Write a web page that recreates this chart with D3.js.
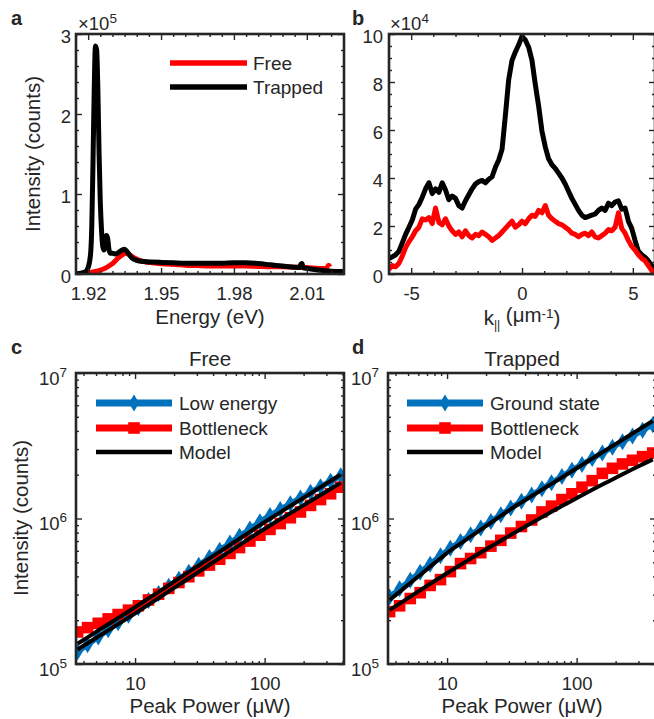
<!DOCTYPE html>
<html><head><meta charset="utf-8">
<script src="https://cdn.jsdelivr.net/npm/d3@7/dist/d3.min.js"></script>
<style>
body{margin:0;background:#fff}
text{font-family:"Liberation Sans",Arial,Helvetica,sans-serif;fill:#262626}
</style>
</head><body>
<svg id="fig" width="654" height="719"></svg>
<script>
// ---------- DATA ----------
// Panel a: spectra (intensity in units of 1e5 counts)
const energyFree = [1.915,1.918,1.921,1.924,1.926,1.928,1.930,1.932,1.934,1.9355,1.937,1.939,1.941,1.944,1.948,1.952,1.956,1.960,1.965,1.970,1.975,1.980,1.985,1.990,1.995,2.000,2.005,2.010,2.015,2.018,2.019,2.0195];
const spectrumFree = [0.0,0.01,0.02,0.04,0.06,0.09,0.13,0.19,0.24,0.26,0.24,0.20,0.17,0.15,0.135,0.125,0.12,0.11,0.105,0.10,0.10,0.10,0.10,0.095,0.09,0.09,0.085,0.08,0.07,0.07,0.11,0.09];
const energyTrapped = [1.915,1.917,1.919,1.920,1.921,1.9215,1.922,1.9225,1.923,1.9235,1.924,1.9245,1.925,1.9255,1.926,1.9265,1.927,1.9275,1.928,1.9285,1.929,1.930,1.931,1.932,1.933,1.934,1.935,1.936,1.937,1.938,1.940,1.943,1.946,1.950,1.955,1.960,1.965,1.970,1.975,1.980,1.985,1.990,1.995,2.000,2.005,2.007,2.0075,2.008,2.0085,2.010,2.015,2.020,2.025];
const spectrumTrapped = [0.00,0.01,0.03,0.08,0.25,0.6,1.4,2.3,2.85,2.80,2.3,1.5,0.9,0.55,0.35,0.30,0.38,0.48,0.45,0.32,0.26,0.26,0.25,0.26,0.28,0.30,0.31,0.28,0.24,0.20,0.17,0.155,0.15,0.145,0.14,0.135,0.135,0.135,0.135,0.14,0.14,0.13,0.115,0.10,0.085,0.08,0.12,0.13,0.08,0.07,0.05,0.035,0.03];

// Panel b: momentum profiles (units of 1e4 counts)
const kPar = [-6,-5.85,-5.7,-5.55,-5.4,-5.25,-5.1,-4.95,-4.8,-4.65,-4.5,-4.35,-4.2,-4.05,-3.9,-3.75,-3.6,-3.45,-3.3,-3.15,-3,-2.85,-2.7,-2.55,-2.4,-2.25,-2.1,-1.95,-1.8,-1.65,-1.5,-1.35,-1.2,-1.05,-0.9,-0.75,-0.6,-0.45,-0.3,-0.15,0,0.15,0.3,0.45,0.6,0.75,0.9,1.05,1.2,1.35,1.5,1.65,1.8,1.95,2.1,2.25,2.4,2.55,2.7,2.85,3,3.15,3.3,3.45,3.6,3.75,3.9,4.05,4.2,4.35,4.5,4.65,4.8,4.95,5.1,5.25,5.4,5.55,5.7,5.85,6];
const profileTrapped = [0.65,0.72,0.80,0.95,1.30,1.65,1.95,2.25,2.70,2.90,
 3.20,3.55,3.80,3.35,3.55,3.40,3.80,3.50,3.10,3.25,
 3.15,2.85,2.75,3.05,3.30,3.55,3.75,3.85,3.90,3.80,
 3.95,4.05,4.45,4.75,5.20,6.60,8.10,8.90,9.25,9.55,
 9.90,
 9.75,9.45,8.90,7.90,7.00,5.95,5.30,4.80,4.55,
 4.40,4.20,4.00,3.75,3.45,3.15,2.90,2.65,2.45,2.35,
 2.40,2.45,2.50,2.65,2.75,2.65,2.95,2.85,3.00,3.05,
 2.70,2.75,2.20,1.90,1.40,0.95,0.80,0.70,0.55,0.35,0.10];
const profileFree = [0.20,0.35,0.30,0.45,0.75,1.10,1.35,1.55,1.80,1.95,
 2.30,2.25,2.35,2.10,2.75,2.15,2.05,2.30,2.00,1.80,
 1.65,1.75,1.55,1.80,1.60,1.50,1.65,1.60,1.75,1.65,
 1.55,1.40,1.50,1.60,1.75,1.90,2.05,2.20,1.95,2.05,
 2.20,
 2.10,2.30,2.45,2.40,2.65,2.55,2.85,2.45,2.30,
 2.20,2.10,2.05,1.95,1.85,1.70,1.65,1.55,1.65,1.70,
 1.60,1.75,1.55,1.50,1.60,1.70,1.85,1.80,1.95,2.55,
 1.90,1.70,1.40,1.15,1.00,0.80,0.65,0.55,0.35,0.15,-0.10];

// Panels c,d: power dependence (counts)
const peakPower = [3.6,4.3,5.2,6.2,7.4,8.9,10.6,12.7,15.2,18.2,21.8,26,31,37.5,45,54,64,77,92,110,132,158,189,226,270,323,387];
const freeLowEnergy = [1.213e5,1.358e5,1.535e5,1.718e5,1.923e5,2.163e5,2.432e5,2.729e5,3.055e5,3.420e5,3.828e5,4.276e5,4.775e5,5.395e5,6.039e5,6.776e5,7.551e5,8.472e5,9.484e5,1.050e6,1.153e6,1.265e6,1.384e6,1.514e6,1.652e6,1.803e6,1.968e6];
const freeBottleneck = [1.660e5,1.778e5,1.905e5,2.042e5,2.188e5,2.344e5,2.512e5,2.754e5,3.020e5,3.311e5,3.631e5,3.981e5,4.365e5,4.786e5,5.248e5,5.754e5,6.310e5,6.998e5,7.674e5,8.414e5,9.226e5,1.012e6,1.109e6,1.230e6,1.349e6,1.479e6,1.641e6];
const freeModelLow = [1.380e5,1.524e5,1.698e5,1.875e5,2.070e5,2.296e5,2.541e5,2.825e5,3.133e5,3.483e5,3.873e5,4.295e5,4.753e5,5.321e5,5.916e5,6.577e5,7.278e5,8.091e5,8.995e5,9.954e5,1.102e6,1.219e6,1.346e6,1.486e6,1.641e6,1.811e6,2.004e6];
const freeModelBottleneck = [1.259e5,1.390e5,1.545e5,1.702e5,1.879e5,2.084e5,2.301e5,2.559e5,2.838e5,3.155e5,3.499e5,3.882e5,4.295e5,4.808e5,5.346e5,5.943e5,6.561e5,7.311e5,8.110e5,8.954e5,9.886e5,1.089e6,1.197e6,1.318e6,1.449e6,1.596e6,1.758e6];
const trappedGround = [2.891e5,3.289e5,3.767e5,4.276e5,4.853e5,5.546e5,6.252e5,6.950e5,7.727e5,8.590e5,9.550e5,1.062e6,1.180e6,1.312e6,1.449e6,1.603e6,1.758e6,1.945e6,2.148e6,2.355e6,2.582e6,2.825e6,3.090e6,3.373e6,3.690e6,4.036e6,4.416e6];
const trappedBottleneck = [2.290e5,2.512e5,2.818e5,3.090e5,3.467e5,3.802e5,4.315e5,4.898e5,5.309e5,5.821e5,6.457e5,7.079e5,7.943e5,8.810e5,9.772e5,1.109e6,1.216e6,1.349e6,1.479e6,1.641e6,1.820e6,2.042e6,2.213e6,2.371e6,2.512e6,2.661e6,2.818e6];
const trappedModelGround = [2.754e5,3.133e5,3.606e5,4.093e5,4.667e5,5.333e5,6.026e5,6.730e5,7.516e5,8.395e5,9.354e5,1.042e6,1.161e6,1.291e6,1.426e6,1.578e6,1.730e6,1.914e6,2.113e6,2.333e6,2.582e6,2.851e6,3.148e6,3.475e6,3.837e6,4.236e6,4.688e6];
const trappedModelBottleneck = [2.344e5,2.602e5,2.906e5,3.214e5,3.555e5,3.943e5,4.345e5,4.803e5,5.296e5,5.833e5,6.418e5,7.042e5,7.717e5,8.509e5,9.329e5,1.022e6,1.112e6,1.217e6,1.326e6,1.443e6,1.574e6,1.711e6,1.855e6,2.012e6,2.178e6,2.356e6,2.549e6];

// Ticks
const energyTicks = [1.92,1.95,1.98,2.01];
const energyMinor = [1.915,1.925,1.93,1.935,1.94,1.945,1.955,1.96,1.965,1.97,1.975,1.985,1.99,1.995,2.0,2.005,2.015,2.02,2.025];
const specTicks = [0,1,2,3];
const specMinor = [0.2,0.4,0.6,0.8,1.2,1.4,1.6,1.8,2.2,2.4,2.6,2.8];
const kTicks = [-5,0,5];
const kMinor = [-6,-4,-3,-2,-1,1,2,3,4,6];
const profTicks = [0,2,4,6,8,10];
const profMinor = [0.5,1,1.5,2.5,3,3.5,4.5,5,5.5,6.5,7,7.5,8.5,9,9.5];
const powerTicks = [10,100];
const powerMinor = [4,5,6,7,8,9,20,30,40,50,60,70,80,90,200,300,400];
const logTicks = [1e5,1e6,1e7];
const logMinor = [2e5,3e5,4e5,5e5,6e5,7e5,8e5,9e5,2e6,3e6,4e6,5e6,6e6,7e6,8e6,9e6];

// ---------- DRAW ----------
const svg = d3.select('#fig');
const AX = '#262626', BLUE = '#0072BD', RED = '#FF0000';
const TICKFS = 18.5, LABFS = 20.5, LEGFS = 19;
const plain = d => String(d);

let clipId = 0;
function panel(x, y, o) {
  const g = svg.append('g');
  const [x0, x1] = x.range(), [y0, y1] = y.range();
  const id = 'clip' + (clipId++);
  svg.append('defs').append('clipPath').attr('id', id)
    .append('rect').attr('x', x0).attr('y', y1).attr('width', x1 - x0).attr('height', y0 - y1);
  const data = g.append('g').attr('clip-path', `url(#${id})`);
  const ax = (fn, scale, vals, size, tr, fmt, pad) => {
    const a = fn(scale).tickValues(vals).tickSizeInner(size).tickSizeOuter(0).tickPadding(pad || 3)
      .tickFormat(fmt || (() => ''));
    const s = g.append('g').attr('transform', tr).call(a);
    s.select('.domain').remove();
    s.attr('font-family', null).attr('font-size', TICKFS);
    s.selectAll('.tick line').attr('stroke', AX).attr('stroke-width', 1.4);
    return s;
  };
  const frame = () => {
    ax(d3.axisBottom, x, o.xm, -3, `translate(0,${y0})`);
    ax(d3.axisTop, x, o.xm, -3, `translate(0,${y1})`);
    ax(d3.axisLeft, y, o.ym, -3, `translate(${x0},0)`);
    ax(d3.axisRight, y, o.ym, -3, `translate(${x1},0)`);
    ax(d3.axisBottom, x, o.xt, -6, `translate(0,${y0})`, o.xf, 13);
    ax(d3.axisTop, x, o.xt, -6, `translate(0,${y1})`);
    const left = ax(d3.axisLeft, y, o.yt, -6, `translate(${x0},0)`, o.yf || (() => ''), o.ypad);
    ax(d3.axisRight, y, o.yt, -6, `translate(${x1},0)`);
    if (o.logY) {
      left.selectAll('.tick text').attr('dy', '0.62em').each(function (d) {
        const t = d3.select(this);
        t.text(null);
        t.append('tspan').text('10');
        t.append('tspan').attr('font-size', 13.5).attr('dy', '-0.62em').text(Math.round(Math.log10(d)));
      });
    } else {
      left.selectAll('.tick text').attr('dy', '0.47em');
    }
    g.append('rect').attr('x', x0).attr('y', y1).attr('width', x1 - x0).attr('height', y0 - y1)
      .attr('fill', 'none').attr('stroke', AX).attr('stroke-width', 2.6);
  };
  return {g, data, frame};
}

function label(txt, x, y, opt = {}) {
  const t = svg.append('text').attr('x', x).attr('y', y).attr('font-size', opt.fs || LABFS)
    .attr('text-anchor', opt.anchor || 'middle');
  if (opt.bold) t.attr('font-weight', 'bold');
  if (opt.rot) t.attr('transform', `rotate(-90,${x},${y})`);
  t.text(txt);
  return t;
}
function timesTen(x, y, exp) {
  const t = svg.append('text').attr('x', x).attr('y', y).attr('font-size', TICKFS);
  t.append('tspan').text('\u00D710');
  t.append('tspan').attr('font-size', 13.5).attr('dy', '-0.55em').text(exp);
}

// ---- Panel a ----
{
  const x = d3.scaleLinear().domain([1.915, 2.0253]).range([76, 344]);
  const y = d3.scaleLinear().domain([0, 3]).range([274, 34]);
  const p = panel(x, y, {xt: energyTicks, xm: energyMinor, xf: d3.format('.2f'),
    yt: specTicks, ym: specMinor, yf: plain, ypad: 5});
  const line = (ex) => d3.line().x((d, i) => x(ex[i])).y(d => y(d)).curve(d3.curveMonotoneX);
  p.data.append('path').datum(spectrumFree).attr('d', line(energyFree))
    .attr('fill', 'none').attr('stroke', RED).attr('stroke-width', 5).attr('stroke-linejoin', 'round');
  p.data.append('path').datum(spectrumTrapped).attr('d', line(energyTrapped))
    .attr('fill', 'none').attr('stroke', '#000').attr('stroke-width', 5).attr('stroke-linejoin', 'round');
  p.frame();
  [['Free', RED, 63], ['Trapped', '#000', 87]].forEach(([n, c, ly]) => {
    svg.append('line').attr('x1', 170).attr('x2', 247).attr('y1', ly).attr('y2', ly)
      .attr('stroke', c).attr('stroke-width', 5.5);
    label(n, 253, ly + 7, {fs: LEGFS, anchor: 'start'});
  });
  timesTen(78, 30, '5');
  label('Intensity (counts)', 40, 154, {rot: true});
  label('Energy (eV)', 210, 324);
  label('a', 11, 25, {bold: true, anchor: 'start', fs: 20});
}

// ---- Panel b ----
{
  const x = d3.scaleLinear().domain([-6, 6]).range([389, 655]);
  const y = d3.scaleLinear().domain([0, 10]).range([274, 34]);
  const p = panel(x, y, {xt: kTicks, xm: kMinor, xf: plain,
    yt: profTicks, ym: profMinor, yf: plain, ypad: 6});
  const line = d3.line().x((d, i) => x(kPar[i])).y(d => y(d));
  p.data.append('path').datum(profileTrapped).attr('d', line)
    .attr('fill', 'none').attr('stroke', '#000').attr('stroke-width', 5).attr('stroke-linejoin', 'round');
  p.data.append('path').datum(profileFree).attr('d', line)
    .attr('fill', 'none').attr('stroke', RED).attr('stroke-width', 5).attr('stroke-linejoin', 'round');
  p.frame();
  timesTen(390, 30, '4');
  const t = svg.append('text').attr('x', 522).attr('y', 325).attr('font-size', LABFS).attr('text-anchor', 'middle');
  t.append('tspan').text('k');
  t.append('tspan').attr('font-size', 12).attr('dy', '0.3em').text('||');
  t.append('tspan').attr('dy', '-0.3em').text(' (\u03BCm');
  t.append('tspan').attr('font-size', 13.5).attr('dy', '-0.36em').text('-1');
  t.append('tspan').attr('dy', '0.36em').text(')');
  label('b', 352, 25, {bold: true, anchor: 'start', fs: 20});
}

// ---- Panels c,d ----
const diamond = 'M0,-8.5L5.2,0L0,8.5L-5.2,0Z';
const square = 'M-5.8,-5.8H5.8V5.8H-5.8Z';
function powerPanel(x0, x1, blueVals, redVals, mBlue, mRed, names, legX, title, letter, letterX) {
  const x = d3.scaleLog().domain([3.5, 410]).range([x0, x1]);
  const y = d3.scaleLog().domain([1e5, 1e7]).range([664, 373]);
  const p = panel(x, y, {xt: powerTicks, xm: powerMinor, xf: plain,
    yt: logTicks, ym: logMinor, logY: true, ypad: 9});
  const line = d3.line().x((d, i) => x(peakPower[i])).y(d => y(d));
  const smooth = d3.line().x((d, i) => x(peakPower[i])).y(d => y(d)).curve(d3.curveMonotoneX);
  p.data.append('path').datum(blueVals).attr('d', line).attr('fill', 'none')
    .attr('stroke', BLUE).attr('stroke-width', 5.5);
  p.data.selectAll('path.dm').data(blueVals).join('path').attr('class', 'dm').attr('d', diamond)
    .attr('fill', BLUE).attr('transform', (d, i) => `translate(${x(peakPower[i])},${y(d)})`);
  p.data.append('path').datum(redVals).attr('d', line).attr('fill', 'none')
    .attr('stroke', RED).attr('stroke-width', 3);
  p.data.selectAll('path.sq').data(redVals).join('path').attr('class', 'sq').attr('d', square)
    .attr('fill', RED).attr('transform', (d, i) => `translate(${x(peakPower[i])},${y(d)})`);
  [mBlue, mRed].forEach(m => p.data.append('path').datum(m).attr('d', smooth)
    .attr('fill', 'none').attr('stroke', '#000').attr('stroke-width', 4));
  p.frame();
  const rows = [[names[0], BLUE, 403, diamond, 7], [names[1], RED, 428, square, 7], [names[2], '#000', 452, null, 4.5]];
  rows.forEach(([n, c, ly, mk, w]) => {
    svg.append('line').attr('x1', legX).attr('x2', legX + 76).attr('y1', ly).attr('y2', ly)
      .attr('stroke', c).attr('stroke-width', w);
    if (mk) svg.append('path').attr('d', mk).attr('fill', c)
      .attr('transform', `translate(${legX + 38},${ly})`);
    label(n, legX + 83, ly + 7, {fs: LEGFS, anchor: 'start'});
  });
  label(title, (x0 + x1) / 2, 366);
  label('Peak Power (\u03BCW)', (x0 + x1) / 2, 713);
  label(letter, letterX, 354, {bold: true, anchor: 'start', fs: 20});
}
powerPanel(76, 344, freeLowEnergy, freeBottleneck, freeModelLow, freeModelBottleneck,
  ['Low energy', 'Bottleneck', 'Model'], 96, 'Free', 'c', 11);
powerPanel(388, 656, trappedGround, trappedBottleneck, trappedModelGround, trappedModelBottleneck,
  ['Ground state', 'Bottleneck', 'Model'], 407, 'Trapped', 'd', 352);
label('Intensity (counts)', 28, 518, {rot: true});
</script>
</body></html>
